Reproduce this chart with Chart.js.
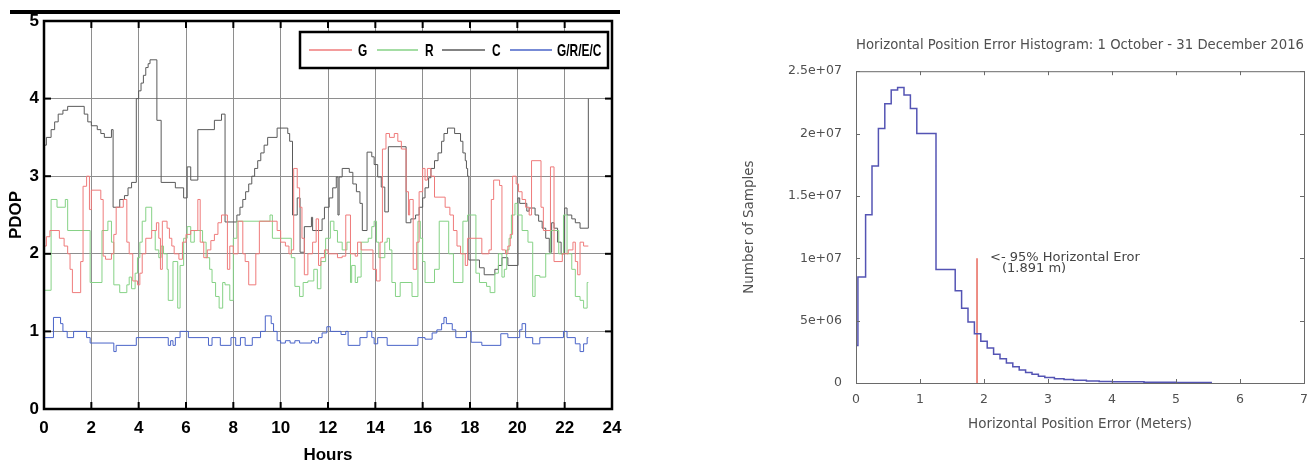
<!DOCTYPE html>
<html><head><meta charset="utf-8">
<script src="https://cdn.jsdelivr.net/npm/chart.js@4.4.0/dist/chart.umd.min.js"></script>
<style>
html,body{margin:0;padding:0;background:#fff;width:1307px;height:463px;overflow:hidden;position:relative;}
#topbar{position:absolute;left:10px;top:10px;width:610px;height:4px;background:#000;}
#wl{position:absolute;left:0;top:0;width:640px;height:463px;}
#wr{position:absolute;left:700px;top:0;width:627px;height:463px;}
</style></head><body>
<div id="topbar"></div>
<div id="wl"><canvas id="cl"></canvas></div>
<div id="wr"><canvas id="cr"></canvas></div>
<script>
// ---------- Left chart: PDOP vs hours (step series, [hour, value]) ----------
const hourTicks = [0,2,4,6,8,10,12,14,16,18,20,22,24];
const pdopTicks = [0,1,2,3,4,5];
const seriesLabels = ['G','R','C','G/R/E/C'];

const seriesG = [[0,2.1],[0.1,2.22],[0.25,2.3],[0.65,2.2],[0.85,2.1],[1.0,2.0],[1.1,1.8],[1.2,1.5],[1.55,1.9],[1.65,2.87],[1.8,3.0],[1.92,2.57],[2.0,2.82],[2.4,2.7],[2.5,1.97],[2.6,1.93],[2.85,2.0],[2.95,2.25],[3.05,2.6],[3.35,2.7],[3.5,2.15],[3.6,2.0],[3.75,1.65],[3.95,1.6],[4.05,1.75],[4.15,2.0],[4.3,2.2],[4.55,2.3],[4.75,2.4],[4.85,2.2],[4.92,1.8],[5.0,2.42],[5.2,2.33],[5.3,2.2],[5.4,2.1],[5.5,2.0],[5.7,1.93],[5.85,2.15],[6.0,2.25],[6.2,2.3],[6.5,2.7],[6.6,2.15],[6.75,1.95],[6.9,2.05],[7.05,2.17],[7.2,2.25],[7.35,2.4],[7.5,2.5],[7.75,1.8],[7.85,2.1],[8.0,2.0],[8.2,2.42],[8.4,2.0],[8.5,1.9],[8.65,1.6],[8.95,2.0],[9.1,2.42],[9.85,2.3],[10.0,2.15],[10.2,2.1],[10.35,2.0],[10.45,2.05],[10.55,3.1],[10.7,2.85],[10.8,2.6],[10.9,2.2],[11.0,1.73],[11.15,2.0],[11.35,2.15],[11.5,2.45],[11.6,1.85],[11.7,1.95],[11.85,2.05],[12.0,2.0],[12.4,1.95],[12.6,1.97],[12.75,2.5],[12.95,2.0],[13.15,1.97],[13.25,2.15],[13.4,2.05],[13.9,1.8],[14.05,1.65],[14.2,2.15],[14.3,3.35],[14.45,3.55],[14.6,3.5],[14.8,3.55],[14.95,3.45],[15.1,3.35],[15.3,2.8],[15.4,2.5],[15.45,2.7],[15.6,1.8],[15.75,2.15],[15.85,2.8],[16.0,3.1],[16.1,2.95],[16.2,3.1],[16.35,3.0],[16.5,2.73],[16.95,2.6],[17.15,2.5],[17.3,2.3],[17.45,2.1],[17.6,2.0],[17.8,1.85],[17.9,2.2],[18.5,2.0],[18.8,2.05],[18.9,2.7],[19.0,2.95],[19.25,2.88],[19.35,2.05],[19.5,2.0],[19.6,2.1],[19.7,2.25],[19.8,3.0],[19.95,2.9],[20.05,2.8],[20.2,2.7],[20.35,2.6],[20.5,2.5],[20.6,3.2],[21.0,2.6],[21.1,2.3],[21.4,3.12],[21.55,1.9],[21.9,2.0],[22.15,2.05],[22.35,2.15],[22.45,1.9],[22.55,1.73],[22.65,2.15],[22.8,2.1],[23.0,2.1]];

const seriesR = [[0,1.53],[0.3,2.7],[0.55,2.6],[0.9,2.7],[1.0,2.3],[1.95,1.63],[2.45,2.3],[2.7,2.42],[2.85,2.15],[2.95,1.6],[3.2,1.5],[3.5,1.6],[3.6,1.7],[3.7,1.55],[3.85,1.75],[3.95,1.95],[4.05,2.15],[4.15,2.42],[4.3,2.6],[4.55,2.3],[4.7,2.05],[4.85,1.95],[4.95,2.1],[5.05,2.0],[5.2,1.8],[5.25,1.4],[5.45,1.9],[5.65,1.3],[5.75,1.85],[5.9,2.2],[6.05,2.35],[6.2,2.15],[6.35,2.3],[6.7,2.15],[6.85,1.95],[7.0,1.8],[7.1,1.63],[7.25,1.45],[7.4,1.3],[7.55,1.63],[7.65,1.6],[7.85,1.4],[8.0,2.2],[8.15,2.42],[9.55,2.5],[9.65,2.2],[10.45,1.95],[10.6,1.58],[10.8,1.45],[10.95,1.63],[11.15,1.65],[11.4,1.8],[11.55,1.55],[11.7,1.9],[11.9,2.2],[12.1,2.42],[12.25,2.3],[12.4,2.15],[12.6,2.05],[12.8,2.15],[12.95,1.63],[13.0,1.85],[13.15,1.63],[13.25,1.7],[13.4,2.15],[13.7,2.2],[13.85,2.35],[13.95,2.42],[14.05,2.15],[14.15,1.95],[14.4,2.15],[14.5,2.2],[14.6,2.05],[14.7,1.63],[14.85,1.45],[15.05,1.63],[15.55,1.45],[15.8,2.42],[15.9,2.2],[16.0,1.9],[16.1,1.63],[16.5,1.8],[16.7,2.42],[17.1,2.0],[17.3,1.63],[17.7,2.42],[17.9,2.5],[18.25,1.75],[18.4,1.63],[18.7,1.58],[18.85,1.5],[19.05,1.75],[19.2,2.0],[19.35,1.7],[19.45,1.8],[19.55,2.05],[19.65,2.2],[19.75,2.5],[19.9,2.65],[20.0,2.5],[20.2,2.3],[20.45,2.15],[20.65,1.45],[20.75,1.72],[20.95,1.7],[21.2,2.0],[21.4,2.3],[21.75,2.0],[21.95,2.5],[22.1,2.0],[22.3,1.8],[22.45,1.45],[22.65,1.4],[22.8,1.3],[22.95,1.63],[23.0,1.63]];

const seriesC = [[0,3.4],[0.1,3.5],[0.3,3.6],[0.45,3.7],[0.6,3.8],[0.8,3.85],[1.0,3.9],[1.7,3.8],[1.85,3.7],[2.0,3.65],[2.25,3.6],[2.4,3.55],[2.55,3.5],[2.85,3.6],[2.92,2.6],[3.2,2.7],[3.4,2.75],[3.55,2.85],[3.7,2.92],[3.9,4.0],[4.0,4.1],[4.1,4.2],[4.2,4.3],[4.3,4.4],[4.4,4.45],[4.48,4.5],[4.77,3.72],[4.95,2.92],[5.55,2.85],[5.9,2.72],[6.05,3.12],[6.2,2.95],[6.5,3.6],[7.2,3.72],[7.5,3.8],[7.65,2.41],[8.15,2.5],[8.28,2.6],[8.4,2.7],[8.52,2.8],[8.65,2.9],[8.78,3.0],[8.9,3.1],[9.03,3.2],[9.16,3.3],[9.3,3.4],[9.45,3.5],[9.85,3.62],[10.3,3.55],[10.38,3.45],[10.5,2.5],[10.7,2.72],[10.82,2.02],[11.0,2.35],[11.3,2.47],[11.35,2.3],[11.75,2.45],[11.85,2.6],[12.05,2.72],[12.2,2.85],[12.35,2.99],[12.42,2.5],[12.47,2.99],[12.6,3.1],[12.9,3.05],[13.05,2.9],[13.2,2.8],[13.35,2.65],[13.45,2.3],[13.65,3.31],[13.85,3.25],[13.95,3.15],[14.1,2.99],[14.25,2.86],[14.4,2.54],[14.55,3.38],[15.3,2.4],[15.5,2.45],[15.7,2.5],[15.85,2.6],[16.0,2.72],[16.1,2.85],[16.25,2.98],[16.35,3.1],[16.5,3.2],[16.65,3.3],[16.8,3.45],[16.9,3.55],[17.05,3.62],[17.35,3.55],[17.6,3.45],[17.7,3.3],[17.8,3.2],[17.85,3.1],[17.9,3.0],[17.95,1.92],[18.4,1.82],[18.6,1.73],[19.05,1.8],[19.2,1.85],[19.35,1.95],[19.6,1.85],[20.03,2.72],[20.1,2.65],[20.4,2.55],[20.5,2.59],[20.75,2.5],[20.9,2.42],[21.05,2.33],[21.2,2.2],[21.35,2.02],[21.45,2.4],[21.55,2.33],[21.7,2.15],[21.85,2.0],[22.0,2.59],[22.1,2.5],[22.3,2.45],[22.45,2.4],[22.65,2.33],[23.0,4.0]];

const seriesGREC = [[0,0.92],[0.4,1.18],[0.7,1.1],[0.8,1.0],[0.98,0.92],[1.25,1.0],[1.8,0.92],[1.95,0.85],[2.95,0.74],[3.05,0.82],[3.9,0.92],[5.25,0.82],[5.35,0.88],[5.45,0.82],[5.55,0.92],[5.75,1.0],[6.1,0.92],[6.95,0.82],[7.1,0.92],[7.45,0.82],[7.9,0.92],[8.1,0.82],[8.3,0.92],[8.5,0.82],[8.8,0.92],[9.15,1.0],[9.35,1.2],[9.6,1.1],[9.7,1.0],[9.85,0.88],[10.0,0.85],[10.2,0.88],[10.4,0.85],[10.6,0.88],[10.8,0.85],[11.3,0.88],[11.45,0.85],[11.6,0.92],[11.75,0.98],[11.95,1.06],[12.1,1.0],[12.55,0.96],[12.75,1.0],[12.85,0.82],[13.35,0.92],[13.65,1.0],[13.85,0.92],[13.95,0.84],[14.1,0.92],[14.5,0.82],[15.8,0.92],[16.1,0.9],[16.4,0.98],[16.6,1.02],[16.8,1.1],[16.9,1.18],[17.0,1.1],[17.25,1.02],[17.4,0.92],[17.85,1.0],[18.05,0.86],[18.5,0.82],[19.3,0.97],[19.6,0.92],[20.1,1.02],[20.2,1.1],[20.35,0.92],[20.65,0.84],[20.95,0.92],[21.95,1.0],[22.1,0.92],[22.45,0.84],[22.65,0.74],[22.8,0.84],[22.95,0.92],[23.0,0.92]];

// ---------- Right chart: histogram ----------
const histEdges  = [0,0,0.03,0.15,0.25,0.35,0.45,0.55,0.65,0.75,0.85,0.95,1.25,1.55,1.65,1.75,1.85,1.95,2.05,2.15,2.25,2.35,2.45,2.55,2.65,2.75,2.85,2.95,3.1,3.25,3.4,3.6,3.8,4.0,4.5,5.0,5.55];
const histCounts = [0,3.0e6,8.5e6,13.5e6,17.4e6,20.4e6,22.4e6,23.5e6,23.7e6,23.1e6,22.0e6,20.0e6,9.1e6,7.4e6,6.0e6,4.9e6,3.95e6,3.35e6,2.8e6,2.3e6,1.95e6,1.6e6,1.3e6,1.05e6,0.85e6,0.7e6,0.55e6,0.45e6,0.35e6,0.28e6,0.22e6,0.17e6,0.13e6,0.1e6,0.07e6,0.05e6,0];
const histXTicks = [0,1,2,3,4,5,6,7];
const histYTicks = [0,5e6,1e7,1.5e7,2e7,2.5e7];
const histYLabels = ['0','5e+06','1e+07','1.5e+07','2e+07','2.5e+07'];
const p95 = 1.891;
const p95MarkerTop = 1e7;
const p95Text = ['<- 95% Horizontal Eror', '(1.891 m)'];

const toXY = arr => arr.map(p => ({x:p[0], y:p[1]}));
const BOLDF = "'Liberation Sans','Arimo',Arial,sans-serif";
const DJ = "'DejaVu Sans',sans-serif";

function seg(ctx,x1,y1,x2,y2){ctx.beginPath();ctx.moveTo(x1,y1);ctx.lineTo(x2,y2);ctx.stroke();}

const frameL = {
  id:'frameL',
  afterDraw(chart){
    const {ctx, chartArea:a, scales:{x,y}} = chart;
    ctx.save();
    ctx.strokeStyle='#000';
    ctx.lineWidth=2;
    hourTicks.forEach(v=>{const px=x.getPixelForValue(v); seg(ctx,px,a.bottom,px,a.bottom-7); seg(ctx,px,a.top,px,a.top+7);});
    pdopTicks.forEach(v=>{const py=y.getPixelForValue(v); seg(ctx,a.left,py,a.left+7,py); seg(ctx,a.right,py,a.right-7,py);});
    ctx.lineWidth=2.5;
    ctx.strokeRect(a.left,a.top,a.right-a.left,a.bottom-a.top);
    // legend box
    const bx=a.right-312, by=a.top+11, bw=308, bh=36;
    ctx.fillStyle='#fff'; ctx.fillRect(bx,by,bw,bh);
    ctx.lineWidth=2.5; ctx.strokeRect(bx,by,bw,bh);
    const offs=[[9,52,58],[77,118,125],[142,185,192],[210,252,257]];
    const cy=by+bh/2;
    chart.data.datasets.forEach((ds,i)=>{
      const o=offs[i];
      ctx.strokeStyle=ds.borderColor; ctx.lineWidth=1.5;
      seg(ctx,bx+o[0],cy,bx+o[1],cy);
      ctx.save();
      ctx.translate(bx+o[2],cy+1);
      ctx.scale(0.7,1);
      ctx.fillStyle='#000'; ctx.font='bold 17px '+BOLDF; ctx.textBaseline='middle'; ctx.textAlign='left';
      ctx.fillText(ds.label,0,0);
      ctx.restore();
    });
    ctx.restore();
  }
};

new Chart(document.getElementById('cl'), {
  type:'line',
  data:{datasets:[
    {label:seriesLabels[0], data:toXY(seriesG), borderColor:'#ef7b7b', borderWidth:1, stepped:'before', pointRadius:0, fill:false},
    {label:seriesLabels[1], data:toXY(seriesR), borderColor:'#86d286', borderWidth:1, stepped:'before', pointRadius:0, fill:false},
    {label:seriesLabels[2], data:toXY(seriesC), borderColor:'#5a5a5a', borderWidth:1, stepped:'before', pointRadius:0, fill:false},
    {label:seriesLabels[3], data:toXY(seriesGREC), borderColor:'#4a64c8', borderWidth:1, stepped:'before', pointRadius:0, fill:false}
  ]},
  options:{
    responsive:true, maintainAspectRatio:false, animation:false, devicePixelRatio:1,
    layout:{padding:{left:0,right:28,top:21,bottom:0}},
    plugins:{legend:{display:false}, tooltip:{enabled:false}},
    scales:{
      x:{type:'linear', min:0, max:24,
        afterBuildTicks:s=>{s.ticks=hourTicks.map(v=>({value:v}));},
        ticks:{color:'#000', font:{family:BOLDF, size:17, weight:'bold'}, padding:9, maxRotation:0, autoSkip:false},
        grid:{color:'#8e8e8e', lineWidth:1, drawTicks:false},
        border:{display:false},
        title:{display:true, text:'Hours', color:'#000', font:{family:BOLDF, size:17, weight:'bold', lineHeight:1}, padding:{top:0,bottom:-1}},
        afterFit:s=>{s.height=54;}
      },
      y:{type:'linear', min:0, max:5,
        afterBuildTicks:s=>{s.ticks=pdopTicks.map(v=>({value:v}));},
        ticks:{color:'#000', font:{family:BOLDF, size:17, weight:'bold'}, padding:5, autoSkip:false},
        grid:{color:'#8e8e8e', lineWidth:1, drawTicks:false},
        border:{display:false},
        title:{display:true, text:'PDOP', color:'#000', font:{family:BOLDF, size:17, weight:'bold', lineHeight:1}, padding:{top:8,bottom:0}},
        afterFit:s=>{s.width=44;}
      }
    }
  },
  plugins:[frameL]
});

const frameR = {
  id:'frameR',
  afterDraw(chart){
    const {ctx, chartArea:a, scales:{x,y}} = chart;
    ctx.save();
    ctx.strokeStyle='#6a6a6a'; ctx.lineWidth=1;
    ctx.strokeRect(a.left+0.5,a.top+0.5,a.right-a.left,a.bottom-a.top);
    histXTicks.forEach(v=>{const px=Math.round(x.getPixelForValue(v))+0.5; seg(ctx,px,a.bottom,px,a.bottom-4); seg(ctx,px,a.top,px,a.top+4);});
    histYTicks.forEach(v=>{const py=Math.round(y.getPixelForValue(v))+0.5; seg(ctx,a.left,py,a.left+4,py); seg(ctx,a.right,py,a.right-4,py);});
    ctx.fillStyle='#444'; ctx.font='13px '+DJ; ctx.textBaseline='middle'; ctx.textAlign='left';
    const tx=x.getPixelForValue(p95), ty=y.getPixelForValue(p95MarkerTop);
    ctx.fillText(p95Text[0], tx+13, ty-1);
    ctx.fillText(p95Text[1], tx+25, ty+10);
    ctx.restore();
  }
};

new Chart(document.getElementById('cr'), {
  type:'line',
  data:{datasets:[
    {label:'hist', data:histEdges.map((e,i)=>({x:e,y:histCounts[i]})), borderColor:'#5454b4', borderWidth:1.5, stepped:'before', pointRadius:0, fill:false},
    {label:'p95', data:[{x:p95,y:0},{x:p95,y:p95MarkerTop}], borderColor:'#e8685c', borderWidth:1.5, pointRadius:0, fill:false}
  ]},
  options:{
    responsive:true, maintainAspectRatio:false, animation:false, devicePixelRatio:1,
    layout:{padding:{left:0,right:23,top:0,bottom:0}},
    plugins:{legend:{display:false}, tooltip:{enabled:false},
      title:{display:true, fullSize:false, text:'Horizontal Position Error Histogram: 1 October - 31 December 2016', color:'#505050', font:{family:DJ, size:13.5, weight:'normal', lineHeight:1.2}, padding:{top:37,bottom:18}}
    },
    scales:{
      x:{type:'linear', min:0, max:7,
        afterBuildTicks:s=>{s.ticks=histXTicks.map(v=>({value:v}));},
        ticks:{color:'#505050', font:{family:DJ, size:12.5}, padding:9, maxRotation:0, autoSkip:false},
        grid:{display:false, drawTicks:false},
        border:{display:false},
        title:{display:true, text:'Horizontal Position Error (Meters)', color:'#505050', font:{family:DJ, size:13.5, lineHeight:1}, padding:{top:0,bottom:32}},
        afterFit:s=>{s.height=80;}
      },
      y:{type:'linear', min:0, max:2.5e7,
        afterBuildTicks:s=>{s.ticks=histYTicks.map(v=>({value:v}));},
        ticks:{color:'#505050', font:{family:DJ, size:12.5}, padding:14, autoSkip:false, callback:(v,i)=>histYLabels[i]},
        grid:{display:false, drawTicks:false},
        border:{display:false},
        title:{display:true, text:'Number of Samples', color:'#505050', font:{family:DJ, size:13.5, lineHeight:1}, padding:{top:43,bottom:0}},
        afterFit:s=>{s.width=156;}
      }
    }
  },
  plugins:[frameR]
});
</script>
</body></html>
